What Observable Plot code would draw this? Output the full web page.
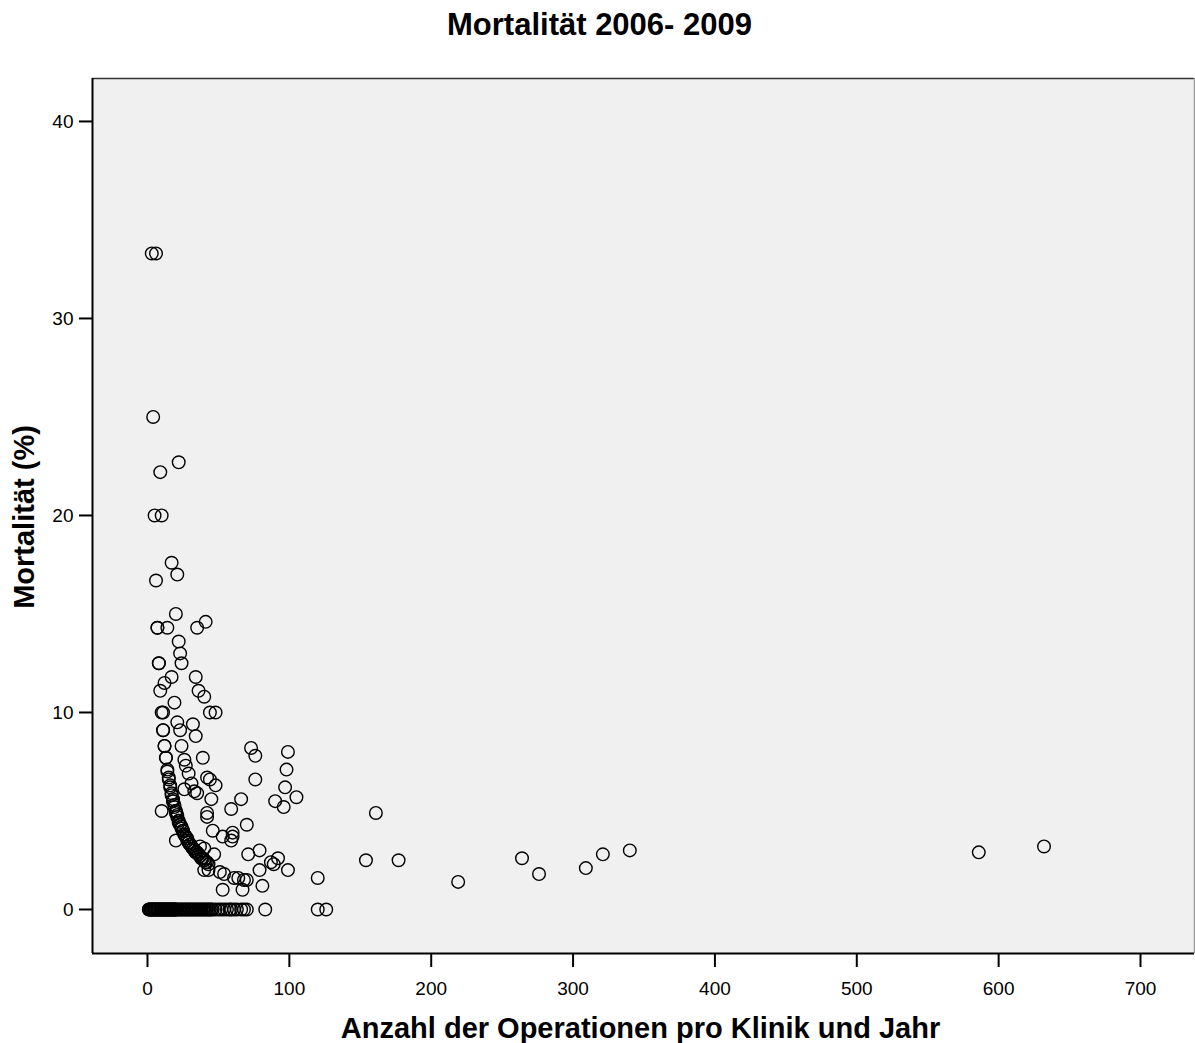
<!DOCTYPE html>
<html>
<head>
<meta charset="utf-8">
<script src="https://cdn.jsdelivr.net/npm/d3@7"></script>
<script src="https://cdn.jsdelivr.net/npm/@observablehq/plot@0.6"></script>
<style>
  html, body { margin: 0; padding: 0; background: #fff; }
  #chart svg { display: block; }
</style>
</head>
<body>
<div id="chart"></div>
<script>
// Chart texts
const title = "Mortalität 2006- 2009";
const xLabel = "Anzahl der Operationen pro Klinik und Jahr";
const yLabel = "Mortalität (%)";

// Axis ticks
const xTicks = [0, 100, 200, 300, 400, 500, 600, 700];
const yTicks = [0, 10, 20, 30, 40];

// Clinics with at least one death: operations per year and mortality (%)
const highOps  = [3, 6, 4, 9, 22, 5, 10, 17, 21, 6, 20, 41, 7, 7, 14, 35, 22, 23, 24, 8, 8, 34, 17, 12, 9, 36, 40, 19, 10, 11, 44, 48];
const highMort = [33.3, 33.3, 25.0, 22.2, 22.7, 20.0, 20.0, 17.6, 17.0, 16.7, 15.0, 14.6, 14.3, 14.3, 14.3, 14.3, 13.6, 13.0, 12.5, 12.5, 12.5, 11.8, 11.8, 11.5, 11.1, 11.1, 10.8, 10.5, 10.0, 10.0, 10.0, 10.0];

const midOps  = [21, 32, 11, 11, 23, 34, 12, 12, 24, 73, 99, 76, 13, 13, 39, 26, 27, 98, 14, 14, 29, 15, 15, 42, 44, 76, 48, 97, 31, 16, 16, 26, 33, 35, 17, 17, 45, 66, 105, 90, 96, 18, 18, 18, 19, 19, 10, 59, 20, 20, 20, 161, 42, 42, 21, 21, 22, 22, 22, 70, 23, 23, 24, 24, 46, 25, 25, 26, 26, 60, 60, 59, 53, 27, 27, 20, 28, 28, 29, 29, 30, 30, 31, 31, 37, 40, 32, 32, 33, 33, 79, 34, 34, 35, 36, 36, 47, 71, 37, 38, 38, 39, 40, 40, 41, 42, 43, 92, 87, 89, 40, 43, 79, 99, 51, 54, 61, 64, 68, 70, 120, 81, 53, 67];
const midMort = [9.5, 9.4, 9.1, 9.1, 9.1, 8.8, 8.3, 8.3, 8.3, 8.2, 8.0, 7.8, 7.7, 7.7, 7.7, 7.6, 7.3, 7.1, 7.1, 7.0, 6.9, 6.7, 6.6, 6.7, 6.6, 6.6, 6.3, 6.2, 6.4, 6.3, 6.2, 6.1, 6.0, 5.9, 5.9, 5.8, 5.6, 5.6, 5.7, 5.5, 5.2, 5.6, 5.5, 5.5, 5.3, 5.2, 5.0, 5.1, 5.0, 5.0, 4.9, 4.9, 4.9, 4.7, 4.8, 4.7, 4.5, 4.5, 4.4, 4.3, 4.3, 4.3, 4.2, 4.1, 4.0, 4.0, 4.0, 3.8, 3.8, 3.9, 3.7, 3.5, 3.7, 3.7, 3.7, 3.5, 3.6, 3.5, 3.4, 3.4, 3.3, 3.3, 3.2, 3.2, 3.2, 3.1, 3.1, 3.1, 3.0, 3.0, 3.0, 2.9, 2.9, 2.9, 2.8, 2.8, 2.8, 2.8, 2.7, 2.6, 2.6, 2.6, 2.5, 2.5, 2.4, 2.4, 2.3, 2.6, 2.4, 2.3, 2.0, 2.0, 2.0, 2.0, 1.9, 1.8, 1.6, 1.6, 1.5, 1.5, 1.6, 1.2, 1.0, 1.0];

const largeOps  = [154, 177, 219, 264, 276, 309, 321, 340, 586, 632];
const largeMort = [2.5, 2.5, 1.4, 2.6, 1.8, 2.1, 2.8, 3.0, 2.9, 3.2];

// Clinics without any death (mortality 0 %)
const zeroOps = [1, 1, 2, 2, 3, 3, 4, 4, 5, 5, 6, 6, 7, 7, 8, 8, 9, 9, 10, 10, 11, 11, 12, 12, 13, 13, 14, 14, 15, 15, 16, 16, 17, 17, 18, 18, 19, 19, 20, 20, 21, 22, 23, 24, 25, 26, 27, 28, 29, 30, 31, 32, 33, 34, 35, 36, 37, 38, 39, 40, 41, 42, 43, 44, 45, 46, 48, 50, 52, 54, 56, 58, 59, 61, 63, 66, 68, 70, 83, 120, 126];

const points = [
  ...highOps.map((ops, i) => ({ops, mort: highMort[i]})),
  ...midOps.map((ops, i) => ({ops, mort: midMort[i]})),
  ...largeOps.map((ops, i) => ({ops, mort: largeMort[i]})),
  ...zeroOps.map(ops => ({ops, mort: 0}))
];

const xDomain = [-38.77, 738.07];
const yDomain = [-2.234, 42.18];

const chart = Plot.plot({
  width: 1195,
  height: 1043,
  marginLeft: 92,
  marginRight: 1,
  marginTop: 78,
  marginBottom: 90,
  style: {fontFamily: "'Liberation Sans', Arial, sans-serif", fontSize: "19px", color: "#000", background: "#fff"},
  x: {domain: xDomain},
  y: {domain: yDomain},
  marks: [
    Plot.frame({fill: "#f0f0f0", stroke: null}),
    Plot.dot(points, {x: "ops", y: "mort", r: 6.3, stroke: "#000", strokeWidth: 1.4, fill: "none"}),
    // plot-area border
    Plot.ruleY([yDomain[1]], {stroke: "#333", strokeWidth: 1.5}),
    Plot.ruleX([xDomain[1]], {stroke: "#999", strokeWidth: 1.5}),
    Plot.ruleX([xDomain[0]], {stroke: "#000", strokeWidth: 2}),
    Plot.ruleY([yDomain[0]], {stroke: "#000", strokeWidth: 2}),
    // axes
    Plot.axisX(xTicks, {tickSize: 14, tickPadding: 13.5, strokeWidth: 2, label: null, fontSize: 19}),
    Plot.axisY(yTicks, {tickSize: 13, tickPadding: 6, strokeWidth: 2, label: null, fontSize: 19}),
    // titles
    Plot.text([title], {text: d => d, frameAnchor: "top", lineAnchor: "middle", textAnchor: "middle", dx: -44, dy: -53, fontSize: 31, fontWeight: "bold"}),
    Plot.text([xLabel], {text: d => d, frameAnchor: "bottom", lineAnchor: "middle", textAnchor: "middle", dx: -3, dy: 75, fontSize: 29, fontWeight: "bold"}),
    Plot.text([yLabel], {text: d => d, frameAnchor: "left", lineAnchor: "middle", textAnchor: "middle", dx: -68, dy: 1, rotate: -90, fontSize: 29, fontWeight: "bold"})
  ]
});

document.getElementById("chart").appendChild(chart);
</script>
</body>
</html>
